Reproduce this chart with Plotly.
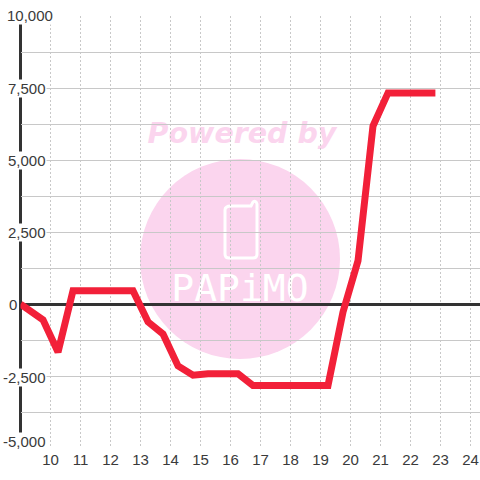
import plotly.graph_objects as go

hours = [9, 9.75, 10.25, 10.75, 11.25, 11.75, 12.25, 12.75, 13.25, 13.75, 14.25, 14.75, 15.25, 15.75, 16.25,
         16.75, 17.25, 17.75, 18.25, 18.75, 19.25, 19.75, 20.25, 20.75, 21.25, 21.75, 22.25, 22.83]
values = [0, -550, -1670, 460, 460, 460, 460, 460, -620, -1040, -2150, -2470, -2420, -2420, -2420,
          -2830, -2830, -2830, -2830, -2830, -2830, -280, 1500, 6180, 7330, 7330, 7330, 7330]
x_ticks = list(range(10, 25))
y_grid = [-5000 + 1250 * i for i in range(13)]
y_labels = [10000, 7500, 5000, 2500, 0, -2500, -5000]
label_left = {10000: 6, 7500: 7, 5000: 7, 2500: 7, 0: 8, -2500: 2, -5000: 2}
label_shift = {-5000: 7, -2500: -1}

PINK = "#fbd5ee"
INK = "#3a3a3a"
FONT = "Liberation Sans"

fig = go.Figure()

# Watermark, in a full-window subplot drawn beneath the chart's own grid
fig.add_trace(go.Scatter(x=[242], y=[136], mode="text", text=["Powered by"], xaxis="x", yaxis="y",
                         textposition="middle center", hoverinfo="skip",
                         textfont=dict(family="DejaVu Sans", size=28.5, color=PINK, weight="bold", style="italic")))
fig.add_trace(go.Scatter(x=[240], y=[291], mode="text", text=["PAPiMO"], xaxis="x", yaxis="y",
                         textposition="middle center", hoverinfo="skip",
                         textfont=dict(family="DejaVu Sans Mono", size=38, color="white")))

# Chart
fig.add_trace(go.Scatter(x=hours, y=values, mode="lines", xaxis="x2", yaxis="y2", cliponaxis=False,
                         line=dict(color="#f22039", width=7), hoverinfo="skip"))

annotations = [dict(x=0, xref="paper", xanchor="left", xshift=label_left[v], y=v, yref="y2", yanchor="middle",
                    yshift=label_shift.get(v, 0),
                    text=f"{v:,}", showarrow=False, bgcolor="white", borderpad=0,
                    font=dict(family=FONT, size=15, color=INK)) for v in y_labels]

shapes = [
    dict(type="circle", xref="x", yref="y", x0=140, x1=340, y0=159, y1=359,
         fillcolor=PINK, line=dict(width=0), layer="below"),
    dict(type="path", xref="x", yref="y", layer="below", line=dict(color="white", width=3),
         path="M 231 206 L 251 206 L 253 202 Q 256 200 257 204 L 257 254 Q 257 258 253 258 "
              "L 229 258 Q 225 258 225 254 L 225 210 Q 225 206 231 206 Z"),
    dict(type="line", xref="paper", yref="y2", x0=20.5 / 480, x1=20.5 / 480, y0=-5000, y1=10000,
         line=dict(color="#333333", width=3), layer="between"),
]

fig.update_layout(
    width=480, height=480, autosize=False,
    margin=dict(l=0, r=0, t=0, b=0),
    paper_bgcolor="white", plot_bgcolor="rgba(0,0,0,0)",
    showlegend=False, annotations=annotations, shapes=shapes,
    xaxis=dict(domain=[0, 1], range=[0, 480], visible=False, fixedrange=True),
    yaxis=dict(domain=[0, 1], range=[480, 0], visible=False, fixedrange=True),
    xaxis2=dict(domain=[20.5 / 480, 1], range=[9, 24.3167], anchor="y2", tickmode="array", tickvals=x_ticks,
                ticktext=[str(t) for t in x_ticks], ticks="", showline=False, zeroline=False,
                showgrid=True, gridcolor="#c8c8c8", gridwidth=1, griddash="2px,2px", ticklabelstandoff=1,
                tickfont=dict(family=FONT, size=15, color=INK)),
    yaxis2=dict(domain=[32 / 480, 464 / 480], range=[-5000, 10000], anchor="x2", tickmode="array", tickvals=y_grid,
                showticklabels=False, ticks="", showgrid=True, gridcolor="#c8c8c8", gridwidth=1,
                zeroline=True, zerolinecolor="#333333", zerolinewidth=3, showline=False),
)

fig.write_html("out.html", config={"displayModeBar": False},
               post_script="document.body.style.margin='0';document.body.style.overflow='hidden';")
